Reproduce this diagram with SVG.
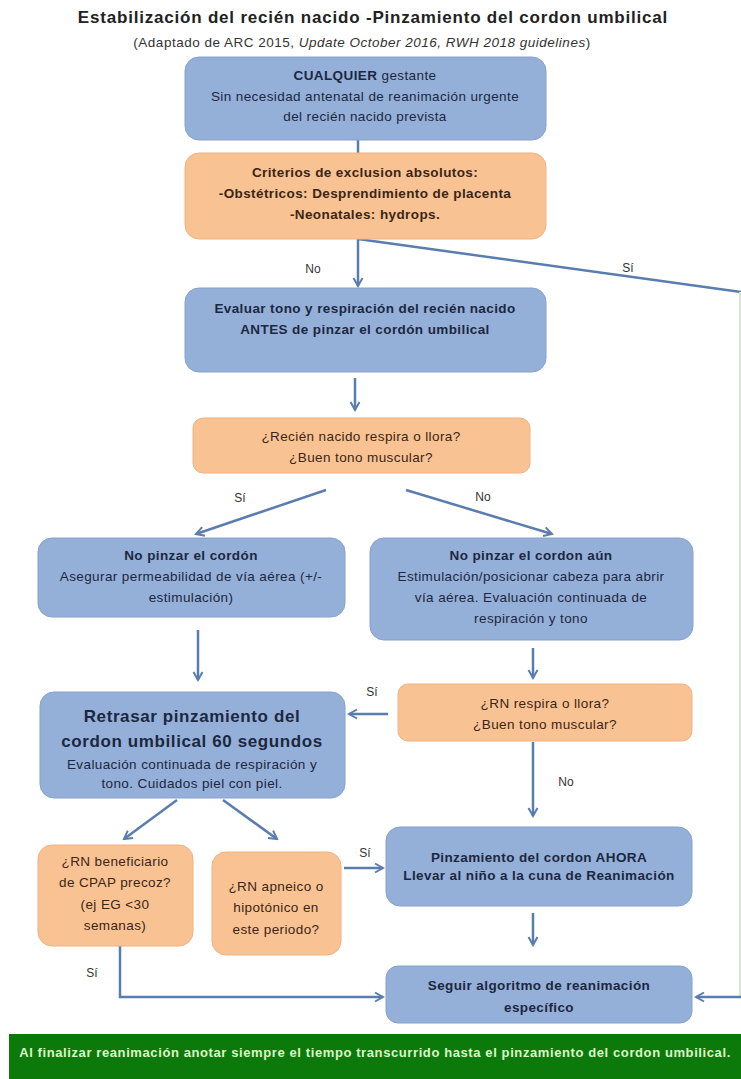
<svg xmlns="http://www.w3.org/2000/svg" width="741" height="1079" viewBox="0 0 741 1079">
<style>
.blue{fill:#95b0d8;stroke:#86a2cc;stroke-width:1}
.orange{fill:#f9c293;stroke:#efb282;stroke-width:1}
text{font-family:"Liberation Sans",Arial,sans-serif;text-anchor:middle}
.tb{fill:#1c2740;font-size:13.5px;letter-spacing:0.4px}
.to{fill:#3a2616;font-size:13.5px;letter-spacing:0.4px}
.b{font-weight:bold}
.lbl{fill:#333;font-size:12px}
.con{stroke:#5a7db0;stroke-width:2.5;fill:none}
</style>
<defs>
<marker id="arr" viewBox="0 0 12 12" refX="10" refY="6" markerWidth="12" markerHeight="12" markerUnits="userSpaceOnUse" orient="auto">
<path d="M2,1.5 L10,6 L2,10.5" fill="none" stroke="#5a7db0" stroke-width="2"/>
</marker>
</defs>
<rect x="0" y="0" width="741" height="1079" fill="#ffffff"/>
<g id="title">
<text x="373" y="23" style="font-size:17px;font-weight:bold;fill:#222;letter-spacing:0.8px">Estabilización del recién nacido -Pinzamiento del cordon umbilical</text>
<text x="362" y="47" style="font-size:13.5px;fill:#333;letter-spacing:0.5px">(Adaptado de ARC 2015, <tspan font-style="italic">Update October 2016, RWH 2018 guidelines</tspan>)</text>
</g>
<g id="connectors">
<line class="con" x1="358" y1="140" x2="358" y2="153"/>
<line class="con" x1="358" y1="239" x2="358" y2="286" marker-end="url(#arr)"/>
<line class="con" x1="358" y1="239" x2="741" y2="292"/>
<line x1="740" y1="292" x2="740" y2="997" stroke="#dbe7d0" stroke-width="2"/>
<line class="con" x1="741" y1="997" x2="696" y2="997" marker-end="url(#arr)"/>
<line class="con" x1="355" y1="378" x2="355" y2="410" marker-end="url(#arr)"/>
<line class="con" x1="326" y1="490" x2="196" y2="534" marker-end="url(#arr)"/>
<line class="con" x1="406" y1="490" x2="552" y2="534" marker-end="url(#arr)"/>
<line class="con" x1="198" y1="630" x2="198" y2="680" marker-end="url(#arr)"/>
<line class="con" x1="533" y1="648" x2="533" y2="678" marker-end="url(#arr)"/>
<line class="con" x1="388" y1="714" x2="349" y2="714" marker-end="url(#arr)"/>
<line class="con" x1="533" y1="742" x2="533" y2="816" marker-end="url(#arr)"/>
<line class="con" x1="177" y1="800" x2="124" y2="839" marker-end="url(#arr)"/>
<line class="con" x1="223" y1="800" x2="277" y2="839" marker-end="url(#arr)"/>
<line class="con" x1="344" y1="868" x2="383" y2="868" marker-end="url(#arr)"/>
<line class="con" x1="533" y1="913" x2="533" y2="945" marker-end="url(#arr)"/>
<path class="con" d="M120,946 V997 H383" marker-end="url(#arr)"/>
<text class="lbl" x="313" y="273">No</text>
<text class="lbl" x="628" y="272">Sí</text>
<text class="lbl" x="240" y="502">Sí</text>
<text class="lbl" x="483" y="501">No</text>
<text class="lbl" x="372" y="696">Sí</text>
<text class="lbl" x="566" y="786">No</text>
<text class="lbl" x="365" y="857">Sí</text>
<text class="lbl" x="92" y="977">Sí</text>
</g>
<g id="n1">
<rect class="blue" x="185" y="57" width="361" height="83" rx="14"/>
<text class="tb" x="365" y="80"><tspan class="b">CUALQUIER</tspan> gestante</text>
<text class="tb" x="365" y="101">Sin necesidad antenatal de reanimación urgente</text>
<text class="tb" x="365" y="121">del recién nacido prevista</text>
</g>
<g id="n2">
<rect class="orange" x="185" y="153" width="361" height="86" rx="14"/>
<text class="to b" x="365" y="177">Criterios de exclusion absolutos:</text>
<text class="to b" x="365" y="198">-Obstétricos: Desprendimiento de placenta</text>
<text class="to b" x="365" y="219">-Neonatales: hydrops.</text>
</g>
<g id="n3">
<rect class="blue" x="185" y="288" width="361" height="84" rx="14"/>
<text class="tb b" x="365" y="313">Evaluar tono y respiración del recién nacido</text>
<text class="tb b" x="365" y="334">ANTES de pinzar el cordón umbilical</text>
</g>
<g id="n4">
<rect class="orange" x="193" y="418" width="337" height="55" rx="10"/>
<text class="to" x="361" y="441">¿Recién nacido respira o llora?</text>
<text class="to" x="361" y="462">¿Buen tono muscular?</text>
</g>
<g id="n5">
<rect class="blue" x="38" y="538" width="307" height="79" rx="14"/>
<text class="tb b" x="191" y="560">No pinzar el cordón</text>
<text class="tb" x="191" y="581">Asegurar permeabilidad de vía aérea (+/-</text>
<text class="tb" x="191" y="602">estimulación)</text>
</g>
<g id="n6">
<rect class="blue" x="370" y="538" width="323" height="102" rx="14"/>
<text class="tb b" x="531" y="560">No pinzar el cordon aún</text>
<text class="tb" x="531" y="581">Estimulación/posicionar cabeza para abrir</text>
<text class="tb" x="531" y="602">vía aérea. Evaluación continuada de</text>
<text class="tb" x="531" y="623">respiración y tono</text>
</g>
<g id="n7">
<rect class="blue" x="40" y="692" width="305" height="106" rx="14"/>
<text class="tb b" x="192" y="722" style="font-size:17px;letter-spacing:0.6px">Retrasar pinzamiento del</text>
<text class="tb b" x="192" y="747" style="font-size:17px;letter-spacing:0.6px">cordon umbilical 60 segundos</text>
<text class="tb" x="192" y="769">Evaluación continuada de respiración y</text>
<text class="tb" x="192" y="788">tono. Cuidados piel con piel.</text>
</g>
<g id="n8">
<rect class="orange" x="398" y="684" width="294" height="57" rx="10"/>
<text class="to" x="545" y="708">¿RN respira o llora?</text>
<text class="to" x="545" y="729">¿Buen tono muscular?</text>
</g>
<g id="n9">
<rect class="blue" x="386" y="827" width="306" height="79" rx="14"/>
<text class="tb b" x="539" y="862">Pinzamiento del cordon AHORA</text>
<text class="tb b" x="539" y="880">Llevar al niño a la cuna de Reanimación</text>
</g>
<g id="n10">
<rect class="orange" x="38" y="845" width="155" height="101" rx="14"/>
<text class="to" x="115" y="866">¿RN beneficiario</text>
<text class="to" x="115" y="887">de CPAP precoz?</text>
<text class="to" x="115" y="909">(ej EG &lt;30</text>
<text class="to" x="115" y="930">semanas)</text>
</g>
<g id="n11">
<rect class="orange" x="212" y="852" width="129" height="103" rx="14"/>
<text class="to" x="276" y="891">¿RN apneico o</text>
<text class="to" x="276" y="912">hipotónico en</text>
<text class="to" x="276" y="934">este periodo?</text>
</g>
<g id="n12">
<rect class="blue" x="386" y="966" width="306" height="57" rx="12"/>
<text class="tb b" x="539" y="990">Seguir algoritmo de reanimación</text>
<text class="tb b" x="539" y="1012">específico</text>
</g>
<g id="footer">
<rect x="9" y="1034" width="732" height="45" fill="#0b7a0b"/>
<text x="375" y="1057" style="font-size:13px;font-weight:bold;fill:#dff5c8;letter-spacing:0.6px">Al finalizar reanimación anotar siempre el tiempo transcurrido hasta el pinzamiento del cordon umbilical.</text>
</g>
</svg>
